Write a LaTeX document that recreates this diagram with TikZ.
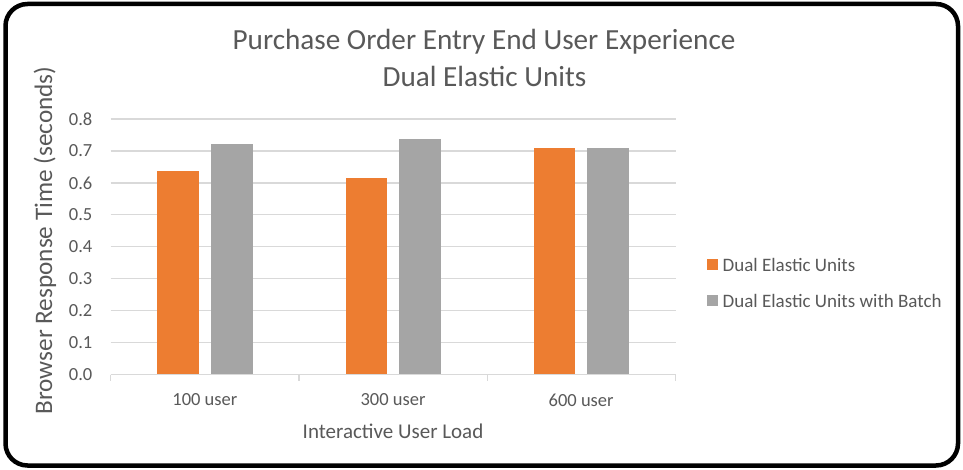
\documentclass[tikz,border=0pt]{standalone}
\usepackage{fontspec}
\setmainfont{Carlito}
\definecolor{txt}{HTML}{595959}
\definecolor{gridc}{HTML}{D9D9D9}
\definecolor{orangebar}{HTML}{ED7D31}
\definecolor{graybar}{HTML}{A5A5A5}
\begin{document}
\begin{tikzpicture}[x=1pt,y=-1pt,
  lbl/.style={text=txt,inner sep=0pt,font=\fontsize{18.5}{20}\selectfont},
  leglbl/.style={text=txt,inner sep=0pt,font=\fontsize{19}{21}\selectfont},
  axtitle/.style={text=txt,inner sep=0pt,font=\fontsize{21}{24}\selectfont},
  ttl/.style={text=txt,inner sep=0pt,font=\fontsize{29.2}{32}\selectfont},
  grid line/.style={draw=gridc,line width=1.3pt},
  orangefill/.style={fill=orangebar},
  grayfill/.style={fill=graybar}]
\useasboundingbox (0,0) rectangle (963,470);
\fill[white] (0,0) rectangle (963,470);
% outer frame
\draw[line width=4.5pt,rounded corners=22pt] (5.5,4) rectangle (958,465.5);
% chart geometry: value v sits at y = 374.5 - 319.4 v
\def\yz{374.5}
\def\ys{319.4}
% horizontal grid lines and value labels
\foreach \v/\t in {0/0.0,0.1/0.1,0.2/0.2,0.3/0.3,0.4/0.4,0.5/0.5,0.6/0.6,0.7/0.7,0.8/0.8}{
  \pgfmathsetmacro\yy{\yz-\ys*\v}
  \draw[grid line] (110.7,\yy) -- (675.7,\yy);
  \node[lbl,anchor=east] (ytick\t) at (92.5,\yy) {\t};
}
% category ticks
\foreach \x in {110.7,299,487.3,675.7}
  \draw[grid line] (\x,\yz) -- (\x,380.5);
% bars
\foreach \c/\a/\b in {204.85/0.638/0.7226, 393/0.615/0.738, 581.15/0.71/0.71}{
  \pgfmathsetmacro\ya{\yz-\ys*\a}
  \pgfmathsetmacro\yb{\yz-\ys*\b}
  \fill[orangefill] (\c-47.5,\ya) rectangle (\c-5.8,\yz-0.6);
  \fill[grayfill] (\c+5.8,\yb) rectangle (\c+48,\yz-0.6);
}
% category labels
\node[lbl] (c100) at (204.85,400) {100 user};
\node[lbl] (c300) at (393,400) {300 user};
\node[lbl] (c600) at (581.15,400) {600 user};
% axis titles
\node[axtitle] (xtitle) at (393,431) {Interactive User Load};
\node[axtitle,rotate=90,font=\fontsize{25.2}{27}\selectfont] (ytitle) at (45,240.5) {Browser Response Time (seconds)};
% chart title
\node[ttl] (title1) at (484,42) {Purchase Order Entry End User Experience};
\node[ttl] (title2) at (484.5,76) {Dual Elastic Units};
% legend
\fill[orangefill] (707,259) rectangle (718,270);
\fill[grayfill] (707,295) rectangle (718,306);
\node[leglbl,anchor=west] (leg1) at (722.5,264.5) {Dual Elastic Units};
\node[leglbl,anchor=west] (leg2) at (722.5,300.5) {Dual Elastic Units with Batch};
\end{tikzpicture}
\end{document}
